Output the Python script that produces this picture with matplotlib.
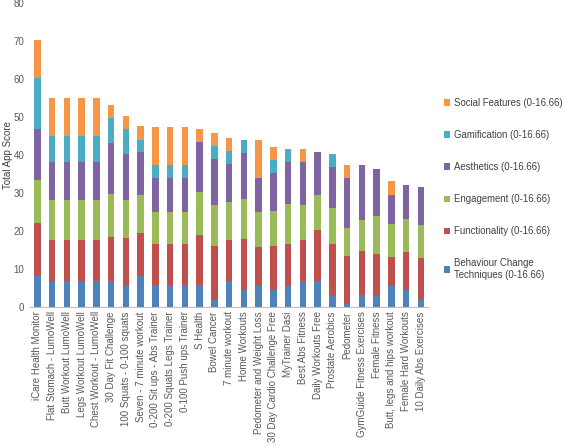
import numpy as np
import matplotlib
matplotlib.use('Agg')
import matplotlib.pyplot as plt

plt.rcParams['font.family'] = ['Liberation Sans', 'DejaVu Sans']

# app names (x categories)
apps = ['iCare Health Monitor', 'Flat Stomach - LumoWell', 'Butt Workout LumoWell',
        'Legs Workout LumoWell', 'Chest Workout - LumoWell', '30 Day Fit Challenge',
        '100 Squats - 0-100 squats', 'Seven - 7 minute workout', '0-200 Sit ups - Abs Trainer',
        '0-200 Squats Legs Trainer', '0-100 Push ups Trainer', 'S Health', 'Bowel Cancer',
        '7 minute workout', 'Home Workouts', 'Pedometer and Weight Loss',
        '30 Day Cardio Challenge Free', 'MyTrainer Dasi', 'Best Abs Fitness',
        'Daily Workouts Free', 'Prostate Aerobics', 'Pedometer', 'GymGuide Fitness Exercises',
        'Female Fitness', 'Butt, legs and hips workout', 'Female Hard Workouts',
        '10 Daily Abs Exercises']

# scores per domain
bct = [8.2, 6.8, 6.8, 6.8, 6.8, 6.8, 5.6, 8.1, 5.7, 5.7, 5.7, 5.7, 1.9, 6.8,
       4.5, 5.6, 4.5, 5.6, 6.8, 6.8, 3.2, 0.8, 3.2, 3.2, 5.6, 4.5, 1.8]
func = [14.0, 10.8, 10.8, 10.8, 10.8, 11.7, 12.5, 11.5, 10.9, 10.9, 10.9, 13.2, 14.2, 10.8,
        13.3, 10.1, 11.6, 11.0, 10.9, 13.4, 13.4, 12.6, 11.6, 10.9, 7.6, 9.9, 11.2]
eng = [11.2, 10.7, 10.7, 10.7, 10.7, 11.2, 10.0, 10.0, 8.5, 8.5, 8.5, 11.4, 10.7, 10.1,
       10.6, 9.2, 9.3, 10.5, 9.3, 9.3, 9.4, 7.3, 8.1, 9.9, 8.6, 8.7, 8.6]
aes = [13.4, 9.9, 9.9, 9.9, 9.9, 13.4, 12.3, 11.1, 8.9, 8.9, 8.9, 13.2, 12.3, 9.9,
       12.2, 9.0, 10.0, 11.1, 11.1, 11.2, 10.9, 13.2, 14.5, 12.3, 7.7, 9.0, 10.0]
gam = [13.4, 6.8, 6.8, 6.8, 6.8, 6.6, 6.6, 3.4, 3.4, 3.4, 3.4, 0, 3.3, 3.4,
       3.5, 0, 3.2, 3.4, 0, 0, 3.5, 0, 0, 0, 0, 0, 0]
soc = [10.1, 10.0, 10.0, 10.0, 10.0, 3.5, 3.4, 3.5, 10.0, 10.0, 10.0, 3.4, 3.4, 3.4,
       0, 10.0, 3.5, 0, 3.4, 0, 0, 3.5, 0, 0, 3.7, 0, 0]

series = [bct, func, eng, aes, gam, soc]
labels = ['Behaviour Change\nTechniques (0-16.66)', 'Functionality (0-16.66)',
          'Engagement (0-16.66)', 'Aesthetics (0-16.66)', 'Gamification (0-16.66)',
          'Social Features (0-16.66)']
colors = ['#4F81BD', '#C0504D', '#9BBB59', '#8064A2', '#4BACC6', '#F79646']

fig = plt.figure(figsize=(5.65, 4.47), dpi=100)
ax = fig.add_axes([0.053, 0.313, 0.705, 0.68])

x = np.arange(len(apps))
bottom = np.zeros(len(apps))
handles = []
for vals, lab, col in zip(series, labels, colors):
    b = ax.bar(x, vals, 0.44, bottom=bottom, color=col, label=lab)
    handles.append(b)
    bottom += np.array(vals)

ax.set_xlim(-0.5, len(apps) - 0.5)
ax.set_ylim(0, 80)
ax.set_yticks(np.arange(0, 81, 10))
ax.set_xticks(x)
ax.set_xticklabels(apps, rotation=90, fontsize=7, color='#595959')
ax.tick_params(axis='y', labelsize=7, colors='#595959', length=0, pad=4)
ax.tick_params(axis='x', length=0, pad=3)
for s in ['top', 'right', 'left']:
    ax.spines[s].set_visible(False)
ax.spines['bottom'].set_color('#BFBFBF')
ax.set_ylabel('Total App Score', fontsize=7, color='#404040')
ax.yaxis.set_label_coords(-0.043, 0.5)

fig.legend(handles[::-1], labels[::-1], loc='center left',
           bbox_to_anchor=(0.77, 1 - 189 / 447), frameon=False,
           fontsize=6.9, handlelength=0.7, handleheight=0.7, handletextpad=0.4,
           labelspacing=2.3, labelcolor='#404040')

plt.savefig('out.png', dpi=100)
